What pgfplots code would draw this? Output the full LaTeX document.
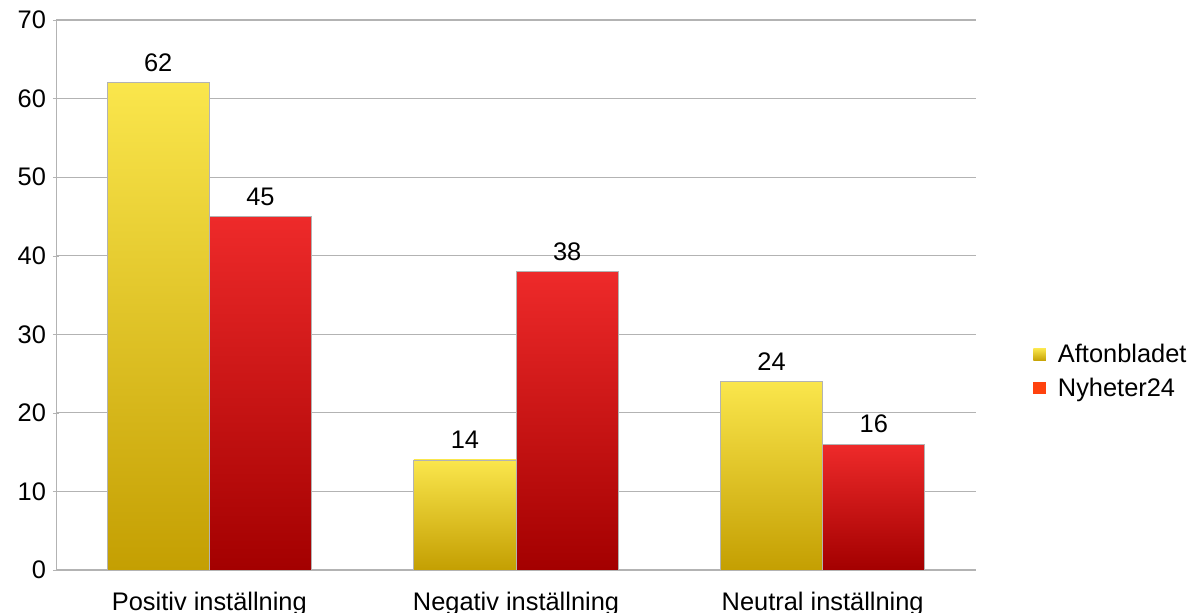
\documentclass[border=0pt]{standalone}
\usepackage{fontspec}
\setmainfont{Liberation Sans}
\usepackage{pgfplots}
\pgfplotsset{compat=1.18}
\usetikzlibrary{calc}

\definecolor{gridgray}{HTML}{B3B3B3}
\definecolor{yeltop}{HTML}{FAE64C}
\definecolor{yelbot}{HTML}{C49F02}
\definecolor{redtop}{HTML}{EE2A2A}
\definecolor{redbot}{HTML}{A30000}
\definecolor{legred}{HTML}{FF420E}

\newcommand{\chartfont}{\fontsize{12.7}{15}\selectfont}

\pgfplotsset{
    afton/.style={bar shift=-0.1667, draw=gridgray, line width=0.4pt,
        top color=yeltop, bottom color=yelbot, forget plot},
    nyh/.style={bar shift=0.1667, draw=gridgray, line width=0.4pt,
        top color=redtop, bottom color=redbot, forget plot},
}

\begin{document}
\begin{tikzpicture}
\begin{axis}[
    scale only axis,
    width=460pt, height=275pt,
    ymin=0, ymax=70,
    xmin=-0.5, xmax=2.5,
    ytick={0,10,...,70},
    xtick={0,1,2},
    xticklabels={Positiv inställning, Negativ inställning, Neutral inställning},
    extra x ticks={-0.5,0.5,1.5,2.5},
    extra x tick labels={},
    extra x tick style={major tick length=5pt, tick style={gridgray}},
    x tick style={draw=none},
    y tick style={gridgray},
    major tick length=3pt,
    tick align=outside,
    axis x line=bottom,
    axis y line=left,
    axis line style={gridgray, -},
    ymajorgrids=true,
    grid style={gridgray, line width=0.6pt},
    font=\chartfont,
    tick label style={font=\chartfont},
    xticklabel style={yshift=-4.5pt},
    /pgf/number format/assume math mode=true,
    ybar, bar width=0.333,
    nodes near coords,
    every node near coord/.append style={font=\chartfont, black, yshift=2pt},
    legend style={at={(1.062,0.36)}, anchor=west, draw=none, fill=none,
        font=\chartfont, row sep=2pt, inner sep=0pt},
    legend cell align=left,
    legend image code/.code={%
        \path[#1] (0cm,-0.1cm) rectangle (0.22cm,0.12cm);
        \path (0.36cm,0cm);},
]
% Aftonbladet
\addplot[afton] coordinates {(0,62)};
\addplot[afton] coordinates {(1,14)};
\addplot[afton] coordinates {(2,24)};
% Nyheter24
\addplot[nyh] coordinates {(0,45)};
\addplot[nyh] coordinates {(1,38)};
\addplot[nyh] coordinates {(2,16)};

\addlegendimage{top color=yeltop, bottom color=yelbot, draw=none}
\addlegendentry{Aftonbladet}
\addlegendimage{fill=legred, draw=none}
\addlegendentry{Nyheter24}
\end{axis}
\pgfresetboundingbox
\path ($(current axis.south west)+(-28pt,-21.5pt)$) rectangle ($(current axis.north east)+(107pt,10pt)$);
\end{tikzpicture}
\end{document}
